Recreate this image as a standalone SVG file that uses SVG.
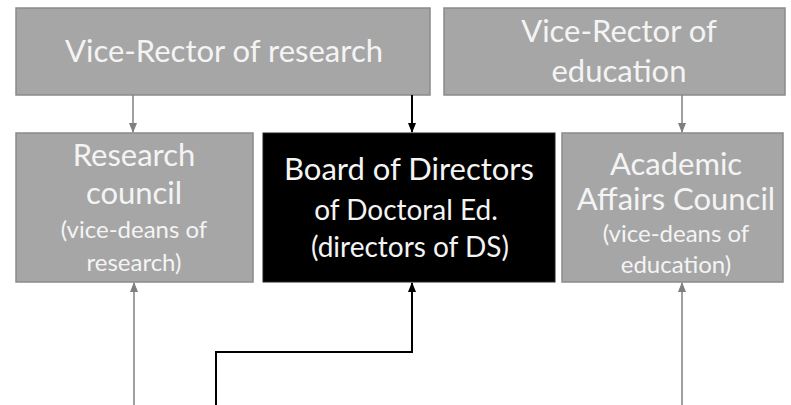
<svg xmlns="http://www.w3.org/2000/svg" width="791" height="405" viewBox="0 0 791 405">
<style>
.g{fill:#a6a6a6;stroke:#8a8a8a;stroke-width:1.5}
.k{fill:#000;stroke:#222;stroke-width:1}
text{font-family:Lato,"Open Sans",sans-serif;fill:#f4f4f4;text-anchor:middle}
.big{font-size:31px}
.mid{font-size:28px}
.sm{font-size:24px}
.ga{stroke:#7f7f7f;stroke-width:1.5;fill:none}
.ka{stroke:#000;stroke-width:2;fill:none}
</style>
<defs>
<marker id="mg" markerWidth="10" markerHeight="10" refX="9" refY="5" orient="auto" markerUnits="userSpaceOnUse"><path d="M0,1 L10,5 L0,9 Z" fill="#7f7f7f"/></marker>
<marker id="mk" markerWidth="10" markerHeight="10" refX="9" refY="5" orient="auto" markerUnits="userSpaceOnUse"><path d="M0,1 L10,5 L0,9 Z" fill="#000"/></marker>
</defs>
<rect width="791" height="405" fill="#fff"/>
<g id="vr-research"><rect class="g" x="16" y="8" width="414" height="87"/><text class="big" x="224" y="62">Vice-Rector of research</text></g>
<g id="vr-education"><rect class="g" x="444" y="8" width="341" height="87"/><text class="big" x="619" y="42">Vice-Rector of</text><text class="big" x="619" y="82">education</text></g>
<g id="research-council"><rect class="g" x="16" y="133" width="237" height="149"/><text class="big" x="134" y="166">Research</text><text class="big" x="134" y="204">council</text><text class="sm" x="134" y="238">(vice-deans of</text><text class="sm" x="134" y="271">research)</text></g>
<g id="board"><rect class="k" x="263" y="133" width="292" height="149"/><text class="big" x="409" y="180">Board of Directors</text><text class="mid" x="406" y="220">of Doctoral Ed.</text><text class="mid" x="410" y="257">(directors of DS)</text></g>
<g id="academic-council"><rect class="g" x="562" y="133" width="221" height="149"/><text class="big" x="676" y="175">Academic</text><text class="big" x="676" y="210">Affairs Council</text><text class="sm" x="676" y="242">(vice-deans of</text><text class="sm" x="676" y="273">education)</text></g>
<g id="connectors">
<line class="ga" x1="133" y1="95" x2="133" y2="132" marker-end="url(#mg)"/>
<line class="ka" x1="412" y1="95" x2="412" y2="132" marker-end="url(#mk)"/>
<line class="ga" x1="682" y1="95" x2="682" y2="132" marker-end="url(#mg)"/>
<line class="ga" x1="134" y1="405" x2="134" y2="283" marker-end="url(#mg)"/>
<polyline class="ka" points="216,405 216,352 412,352 412,283" marker-end="url(#mk)"/>
<line class="ga" x1="682" y1="405" x2="682" y2="283" marker-end="url(#mg)"/>
</g>
</svg>
